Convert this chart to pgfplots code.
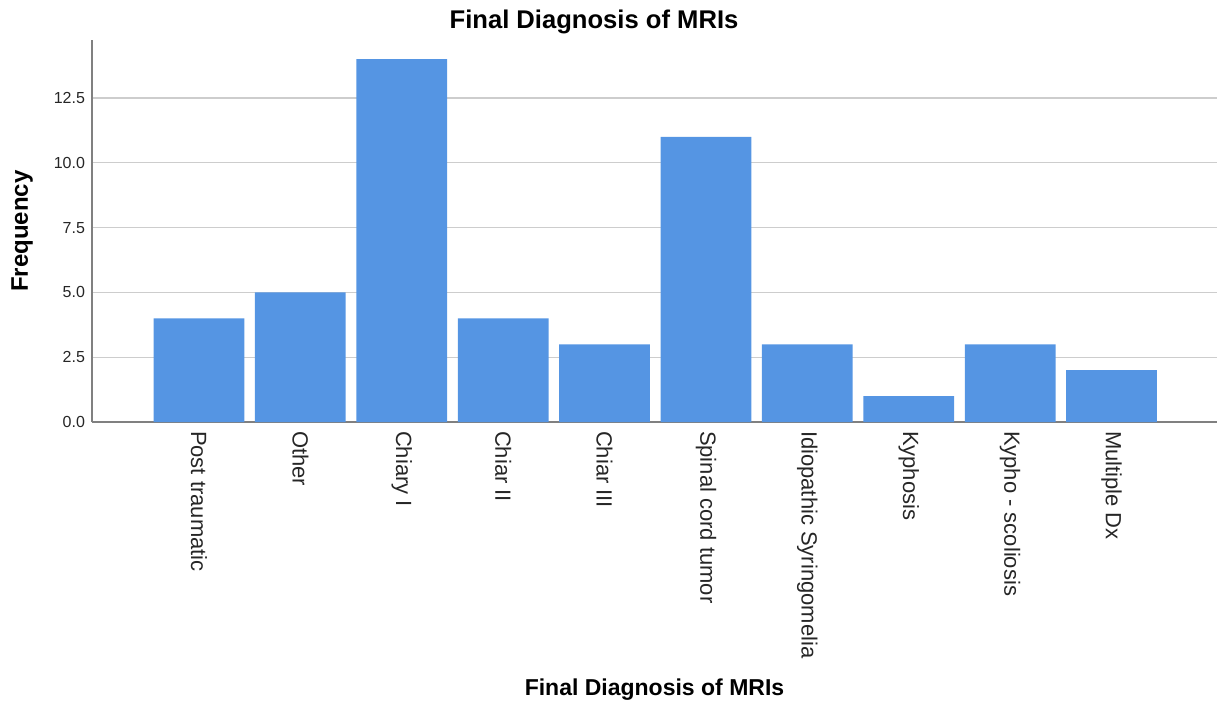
\documentclass[border=0pt]{standalone}
\usepackage{fontspec}
\setmainfont{Liberation Sans}
\usepackage{pgfplots}
\pgfplotsset{compat=1.18}
\definecolor{barblue}{RGB}{85,149,227}
\definecolor{axisgray}{RGB}{128,128,128}
\definecolor{gridgray}{RGB}{205,205,205}
\begin{document}
\begin{tikzpicture}
\useasboundingbox (-46pt,-142pt) rectangle (562.5pt,211pt);
\begin{axis}[
  at={(0,0)}, anchor=south west,
  scale only axis, width=562.5pt, height=191pt,
  xmin=-1.055, xmax=10.04, ymin=0, ymax=14.74,
  axis x line*=bottom, axis y line*=left,
  axis line style={draw=axisgray, line width=0.8pt, -},
  major tick length=0pt,
  ymajorgrids, grid style={draw=gridgray, line width=0.6pt},
  ytick={0,2.5,5,7.5,10,12.5},
  yticklabel style={font=\fontsize{8}{9}\selectfont, text=black!85,
    /pgf/number format/fixed, /pgf/number format/fixed zerofill,
    /pgf/number format/precision=1, /pgf/number format/assume math mode=true},
  xtick={0,...,9},
  xticklabels={Post traumatic, Other, Chiary I, Chiar II, Chiar III, Spinal cord tumor, Idiopathic Syringomelia, Kyphosis, Kypho - scoliosis, Multiple Dx},
  xticklabel style={rotate=-90, anchor=west, font=\fontsize{11}{12}\selectfont, text=black!85, xshift=1pt},
  xlabel={Final Diagnosis of MRIs},
  xlabel style={at={(axis description cs:0.5,0)}, anchor=center, yshift=-134pt, font=\bfseries\fontsize{11.5}{13}\selectfont},
  ylabel={Frequency},
  ylabel style={at={(axis description cs:0,0.5)}, anchor=center, rotate=0, yshift=35pt, font=\bfseries\fontsize{12}{13}\selectfont},
]
\addplot[ybar, bar width=0.895, fill=barblue, draw=none] coordinates {
(0,4) (1,5) (2,14) (3,4) (4,3) (5,11) (6,3) (7,1) (8,3) (9,2)
};
\end{axis}
\node[font=\bfseries\fontsize{12.8}{14}\selectfont] at (251pt,200pt) {Final Diagnosis of MRIs};
\end{tikzpicture}
\end{document}
